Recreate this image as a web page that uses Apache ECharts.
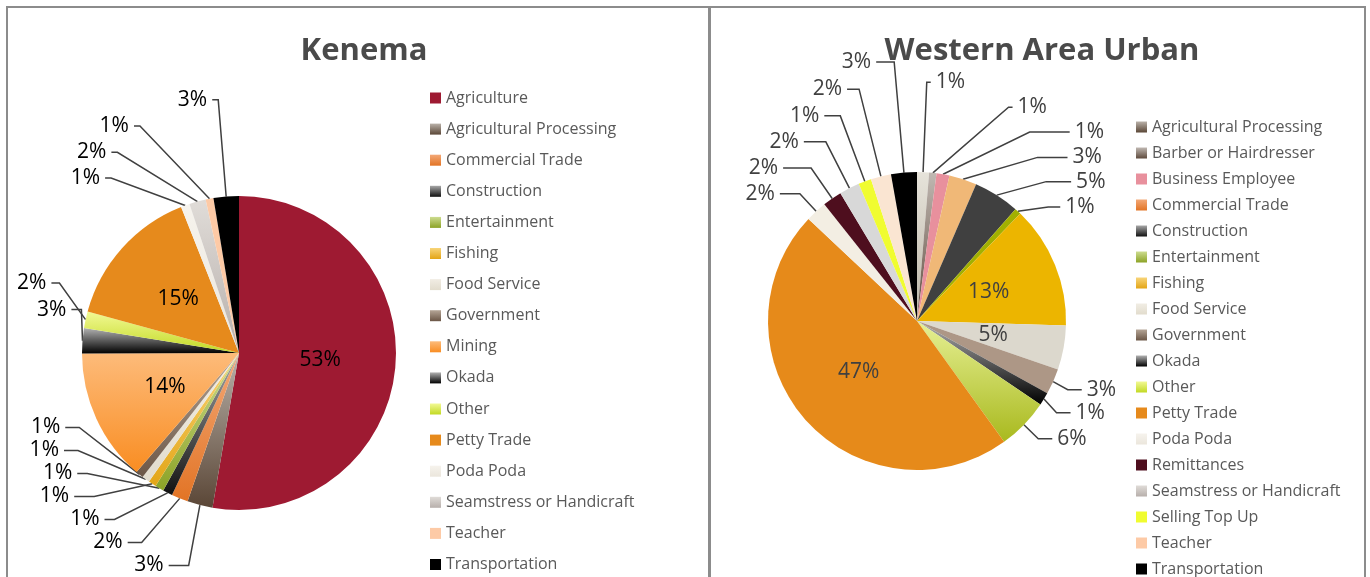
<!DOCTYPE html>
<html>
<head>
<meta charset="utf-8">
<script src="https://cdn.jsdelivr.net/npm/echarts@6/dist/echarts.min.js"></script>
<style>
  html, body { margin: 0; padding: 0; background: #fff; }
  #chart { width: 1370px; height: 577px; }
</style>
</head>
<body>
<div id="chart"></div>
<script>
// Kenema
const kenemaCategories = ['Agriculture', 'Agricultural Processing', 'Commercial Trade', 'Construction',
  'Entertainment', 'Fishing', 'Food Service', 'Government', 'Mining', 'Okada', 'Other',
  'Petty Trade', 'Poda Poda', 'Seamstress or Handicraft', 'Teacher', 'Transportation'];
const kenemaValues = [52.6, 2.6, 1.7, 1.0, 0.9, 0.8, 0.8, 0.8, 13.6, 2.6, 1.7, 14.7, 0.9, 1.7, 0.8, 2.6];
const kenemaInside = ['Agriculture', 'Mining', 'Petty Trade'];

// Western Area Urban
const westernCategories = ['Agricultural Processing', 'Barber or Hairdresser', 'Business Employee',
  'Commercial Trade', 'Construction', 'Entertainment', 'Fishing', 'Food Service', 'Government',
  'Okada', 'Other', 'Petty Trade', 'Poda Poda', 'Remittances', 'Seamstress or Handicraft',
  'Selling Top Up', 'Teacher', 'Transportation'];
const westernValues = [1.3, 0.8, 1.4, 3.0, 5.0, 0.7, 13.3, 4.8, 2.8, 1.4, 5.6, 47.0, 2.3, 2.1, 2.2, 1.4, 2.2, 2.8];
const westernInside = ['Fishing', 'Food Service', 'Petty Trade'];

// leader line lengths [radial, horizontal] for the outside labels
const kenemaLeader = {
  'Agricultural Processing': [45, 20], 'Commercial Trade': [42, 14], 'Construction': [40, 10],
  'Entertainment': [30, 10], 'Fishing': [40, 20], 'Food Service': [28, 14], 'Government': [18, 14],
  'Okada': [8, 10], 'Other': [35, 8],
  'Poda Poda': [26, 6], 'Seamstress or Handicraft': [49, 6], 'Teacher': [73, 6], 'Transportation': [97, 6]
};
const westernLeader = {
  'Agricultural Processing': [90, 4], 'Barber or Hairdresser': [66, 4], 'Business Employee': [43, 40],
  'Commercial Trade': [23, 30], 'Construction': [16, 25], 'Entertainment': [6, 12],
  'Poda Poda': [24, 20], 'Remittances': [37, 28], 'Seamstress or Handicraft': [52, 22],
  'Selling Top Up': [70, 16], 'Teacher': [90, 12], 'Transportation': [111, 18]
};

const grad = (top, bottom) => new echarts.graphic.LinearGradient(0, 0, 0, 1, [
  { offset: 0, color: top }, { offset: 1, color: bottom }
]);

const kenemaColors = {
  'Agriculture': '#9e1a32',
  'Agricultural Processing': grad('#b9b1a9', '#5a4636'),
  'Commercial Trade': grad('#f3a877', '#e27425'),
  'Construction': grad('#a8a8a8', '#111111'),
  'Entertainment': grad('#cddc90', '#8ca326'),
  'Fishing': grad('#f8d57a', '#e3a516'),
  'Food Service': grad('#f1ede4', '#e2dccd'),
  'Government': grad('#b5a596', '#6b5646'),
  'Mining': grad('#fdbb7a', '#f98d22'),
  'Okada': grad('#b3b3b3', '#000000'),
  'Other': grad('#f2f995', '#c2d923'),
  'Petty Trade': '#e68a1c',
  'Poda Poda': grad('#f6f3ed', '#ebe6dc'),
  'Seamstress or Handicraft': grad('#e0dcd8', '#b7afab'),
  'Teacher': '#fdcaa6',
  'Transportation': '#000000'
};

const westernColors = {
  'Agricultural Processing': grad('#e6e3da', '#bcb6a8'),
  'Barber or Hairdresser': grad('#c0b8b2', '#5e4a3c'),
  'Business Employee': '#e8909d',
  'Commercial Trade': '#f0b877',
  'Construction': '#404040',
  'Entertainment': '#a2b000',
  'Fishing': '#ecb500',
  'Food Service': '#dcd8cd',
  'Government': '#ad9786',
  'Okada': grad('#b0b0b0', '#000000'),
  'Other': grad('#e6f094', '#a9b91e'),
  'Petty Trade': '#e68a1a',
  'Poda Poda': '#f3eee3',
  'Remittances': '#4e0e1e',
  'Seamstress or Handicraft': '#d8d8d8',
  'Selling Top Up': '#f0fc30',
  'Teacher': '#fae5d2',
  'Transportation': '#000000'
};

const pctLabel = p => Math.round(p.percent) + '%';

const buildData = (cats, vals, colors, inside, leader, textColor) => cats.map((name, i) => {
  const item = { name, value: vals[i], itemStyle: { color: colors[name] } };
  if (inside.includes(name)) {
    item.label = { position: 'inside', color: textColor };
    item.labelLine = { show: false };
  } else if (leader[name]) {
    item.labelLine = { length: leader[name][0], length2: leader[name][1] };
  }
  return item;
});

const font = '"Open Sans", "Noto Sans", sans-serif';

const legendStyle = {
  orient: 'vertical',
  icon: 'rect', itemWidth: 11, itemHeight: 11,
  padding: 0, height: 540,
  textStyle: { fontSize: 16, lineHeight: 20, color: '#595959', fontFamily: font },
  selectedMode: false
};

const chart = echarts.init(document.getElementById('chart'));
chart.setOption({
  animation: false,
  textStyle: { fontFamily: font },
  title: [
    {
      text: 'Kenema', left: 359, top: 31, textAlign: 'center',
      textStyle: { fontSize: 31, fontWeight: 'bold', color: '#4a4a4a', fontFamily: font }
    },
    {
      text: 'Western Area Urban', left: 1037, top: 31, textAlign: 'center',
      textStyle: { fontSize: 31, fontWeight: 'bold', color: '#4a4a4a', fontFamily: font }
    }
  ],
  legend: [
    Object.assign({}, legendStyle, { left: 430, top: 88, itemGap: 11.1, data: kenemaCategories }),
    Object.assign({}, legendStyle, { left: 1136, top: 117, itemGap: 6, data: westernCategories })
  ],
  graphic: [
    { type: 'rect', shape: { x: 7, y: 7, width: 702, height: 600 }, style: { fill: null, stroke: '#8c8c8c', lineWidth: 2 }, silent: true },
    { type: 'rect', shape: { x: 710, y: 7, width: 655, height: 600 }, style: { fill: null, stroke: '#8c8c8c', lineWidth: 2 }, silent: true }
  ],
  series: [
    {
      name: 'Kenema',
      type: 'pie',
      center: [239, 353],
      radius: [0, 157],
      startAngle: 90,
      clockwise: true,
      avoidLabelOverlap: true,
      data: buildData(kenemaCategories, kenemaValues, kenemaColors, kenemaInside, kenemaLeader, '#000000'),
      label: { formatter: pctLabel, fontSize: 21, color: '#000000', fontFamily: font },
      labelLine: { length: 20, length2: 14, lineStyle: { color: '#404040', width: 1.5 } },
      itemStyle: { borderWidth: 0 }
    },
    {
      name: 'Western Area Urban',
      type: 'pie',
      center: [917, 321],
      radius: [0, 149],
      startAngle: 90,
      clockwise: true,
      avoidLabelOverlap: true,
      data: buildData(westernCategories, westernValues, westernColors, westernInside, westernLeader, '#404040'),
      label: { formatter: pctLabel, fontSize: 21, color: '#404040', fontFamily: font },
      labelLine: { length: 20, length2: 14, lineStyle: { color: '#404040', width: 1.5 } },
      itemStyle: { borderWidth: 0 }
    }
  ]
});
window.addEventListener('resize', chart.resize);
</script>
</body>
</html>
